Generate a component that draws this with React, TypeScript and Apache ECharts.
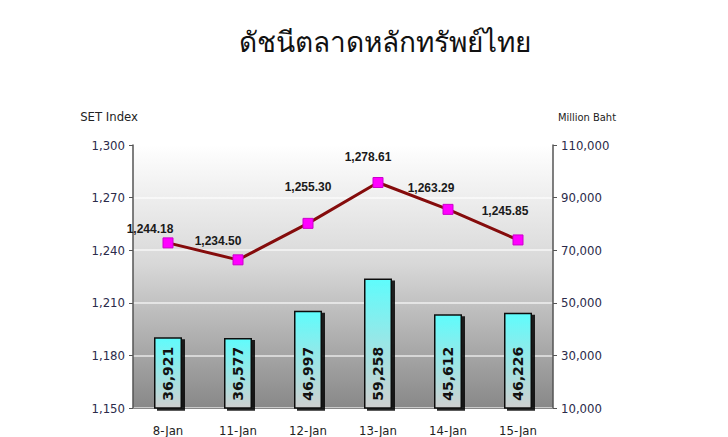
import React, { useEffect, useRef } from "react";
import * as echarts from "echarts";

const categories = ["8-Jan", "11-Jan", "12-Jan", "13-Jan", "14-Jan", "15-Jan"];
const setIndex = [1244.18, 1234.5, 1255.3, 1278.61, 1263.29, 1245.85];
const turnover = [36921, 36577, 46997, 59258, 45612, 46226];
const leftTicks = { min: 1150, max: 1300, interval: 30 };
const rightTicks = { min: 10000, max: 110000, interval: 20000 };
const titleText = "ดัชนีตลาดหลักทรัพย์ไทย";

// label offsets for line value labels (style only)
const lineLabelOffsets = [
  [-18, -14],
  [-20, -19],
  [0, -36],
  [-10, -26],
  [-17, -21],
  [-13, -29],
];

const fmt = (v: number, d: number) =>
  v.toLocaleString("en-US", { minimumFractionDigits: d, maximumFractionDigits: d });

const narrow = "'DejaVu Sans Condensed', 'Liberation Sans Narrow', 'Liberation Sans', Arial, sans-serif";

export default function App() {
  const ref = useRef<HTMLDivElement>(null);
  useEffect(() => {
    if (!ref.current) return;
    const chart = echarts.init(ref.current, undefined, { renderer: "svg" });
    const axisLabelColor = "#2b2b4a";
    chart.setOption({
      animation: false,
      backgroundColor: "#ffffff",
      title: {
        text: titleText,
        left: 380,
        top: 22,
        textAlign: "center",
        textStyle: {
          fontFamily: "Tahoma, 'Noto Sans', 'DejaVu Sans', sans-serif",
          fontSize: 28,
          fontWeight: "normal",
          color: "#111",
        },
      },
      grid: {
        left: 133,
        right: 175,
        top: 145,
        bottom: 27,
        show: true,
        borderWidth: 0,
        backgroundColor: new echarts.graphic.LinearGradient(0, 0, 0, 1, [
          { offset: 0, color: "#ffffff" },
          { offset: 0.45, color: "#d8d8d8" },
          { offset: 1, color: "#888888" },
        ]),
      },
      xAxis: {
        type: "category",
        data: categories,
        axisLine: { show: true, lineStyle: { color: "#888", width: 1 } },
        axisTick: { show: false },
        axisLabel: {
          margin: 16,
          fontFamily: narrow,
          fontSize: 13,
          color: "#222",
        },
      },
      yAxis: [
        {
          type: "value",
          min: leftTicks.min,
          max: leftTicks.max,
          interval: leftTicks.interval,
          name: "SET Index",
          nameLocation: "end",
          nameGap: 22,
          nameTextStyle: {
            align: "right",
            padding: [0, -5, 0, 0],
            fontFamily: narrow,
            fontSize: 13,
            color: "#222",
          },
          axisLine: { show: true, lineStyle: { color: "#555", width: 1.5 } },
          axisTick: { show: true, length: 4, lineStyle: { color: "#555" } },
          axisLabel: {
            margin: 8,
            formatter: (v: number) => fmt(v, 0),
            fontFamily: narrow,
            fontSize: 13,
            color: axisLabelColor,
          },
          splitLine: { show: true, lineStyle: { color: "rgba(255,255,255,0.75)", width: 1.5 } },
        },
        {
          type: "value",
          min: rightTicks.min,
          max: rightTicks.max,
          interval: rightTicks.interval,
          name: "Million Baht",
          nameLocation: "end",
          nameGap: 22,
          nameTextStyle: {
            align: "left",
            padding: [0, 0, 0, 5],
            fontFamily: narrow,
            fontSize: 11,
            color: "#222",
          },
          axisLine: { show: true, lineStyle: { color: "#555", width: 1.5 } },
          axisTick: { show: true, length: 4, lineStyle: { color: "#555" } },
          axisLabel: {
            margin: 8,
            formatter: (v: number) => fmt(v, 0),
            fontFamily: narrow,
            fontSize: 13,
            color: axisLabelColor,
          },
          splitLine: { show: false },
        },
      ],
      series: [
        {
          type: "bar",
          yAxisIndex: 1,
          data: turnover,
          barWidth: 28,
          z: 2,
          itemStyle: {
            color: new echarts.graphic.LinearGradient(0, 0, 0, 1, [
              { offset: 0, color: "#5ffcfc" },
              { offset: 0.5, color: "#9ae6e6" },
              { offset: 1, color: "#cfcfcf" },
            ]),
            borderColor: "#111",
            borderWidth: 1.5,
            shadowColor: "rgba(0,0,0,0.85)",
            shadowOffsetX: 3,
            shadowOffsetY: 2,
            shadowBlur: 0,
          },
          label: {
            show: true,
            position: "insideBottom",
            distance: 8,
            rotate: 90,
            align: "left",
            verticalAlign: "middle",
            formatter: (p: any) => fmt(p.value, 0),
            fontFamily: "'DejaVu Sans', Arial, sans-serif",
            fontWeight: "bold",
            fontSize: 14,
            color: "#111",
          },
        },
        {
          type: "line",
          yAxisIndex: 0,
          z: 5,
          data: setIndex.map((v, i) => ({
            value: v,
            label: { offset: lineLabelOffsets[i] },
          })),
          lineStyle: { color: "#850c0c", width: 3 },
          symbol: "rect",
          symbolSize: 10,
          itemStyle: { color: "#ff00ff", borderColor: "#cc00cc", borderWidth: 1 },
          label: {
            show: true,
            position: "inside",
            formatter: (p: any) => fmt(p.value, 2),
            fontFamily: "Arial, 'Liberation Sans', sans-serif",
            fontWeight: "bold",
            fontSize: 12,
            color: "#1a1a1a",
          },
        },
      ],
    });
    return () => chart.dispose();
  }, []);
  return (
    <div
      ref={ref}
      style={{ position: "fixed", left: 0, top: 0, width: 728, height: 437 }}
    />
  );
}
